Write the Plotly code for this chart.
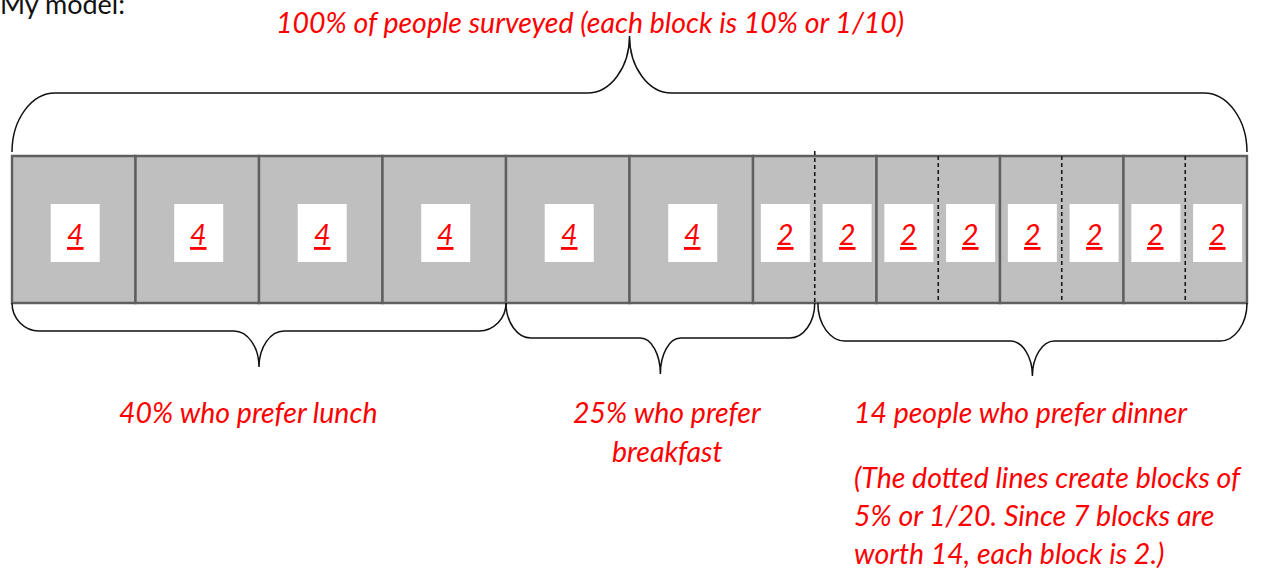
import plotly.graph_objects as go

# ---------------- data ----------------
# segments of the tape diagram (percent width of each segment, and the value written in it)
segment_pct = [10, 10, 10, 10, 10, 10, 5, 5, 5, 5, 5, 5, 5, 5]
segment_values = [4, 4, 4, 4, 4, 4, 2, 2, 2, 2, 2, 2, 2, 2]
# full 10% blocks (solid outlines)
block_pct = [10, 10, 10, 10, 10, 10, 10, 10, 10, 10]
# positions (percent) of the dotted 5% dividers
dotted_pct = [65, 75, 85, 95]
# groups under the tape
group_names = ["lunch", "breakfast", "dinner"]
group_pct = [40, 25, 35]
group_labels = [["40% who prefer lunch"],
                ["25% who prefer", "breakfast"],
                ["14 people who prefer dinner"]]
note_lines = ["(The dotted lines create blocks of",
              "5% or 1/20. Since 7 blocks are",
              "worth 14, each block is 2.)"]
title_text = "100% of people surveyed (each block is 10% or 1/10)"
heading_text = "My model:"

# ---------------- layout constants ----------------
W, H = 1262, 570
X_LO, X_HI = -12 / 12.35, 100 + 15 / 12.35
PX = W / (X_HI - X_LO)          # pixels per percent unit
BAR_TOP, BAR_BOT = 156, 303
BOX_TOP, BOX_BOT = 204, 262
BOX_W_PX = 49
RED = "#ff0000"
FONT = "Lato"
FS = 28.5

shapes = []
annotations = []

# full blocks
x = 0
for w in block_pct:
    shapes.append(dict(type="rect", xref="x", yref="y", x0=x, x1=x + w, y0=BAR_TOP, y1=BAR_BOT,
                       fillcolor="#bfbfbf", line=dict(color="#5f5f5f", width=2.4)))
    x += w

# dotted dividers
for i, d in enumerate(dotted_pct):
    y0 = BAR_TOP - 5 if i == 0 else BAR_TOP
    y1 = BAR_BOT + 2 if i == 0 else BAR_BOT - 3
    shapes.append(dict(type="line", xref="x", yref="y", x0=d, x1=d, y0=y0, y1=y1,
                       line=dict(color="#1a1a1a", width=1.6, dash="4px,3px")))

# value boxes
x = 0
for w, v in zip(segment_pct, segment_values):
    c = x + w / 2 + 0.12
    hw = BOX_W_PX / 2 / PX
    shapes.append(dict(type="rect", xref="x", yref="y", x0=c - hw, x1=c + hw, y0=BOX_TOP, y1=BOX_BOT,
                       fillcolor="white", line=dict(width=0)))
    annotations.append(dict(x=c, y=(BOX_TOP + BOX_BOT) / 2 + 1, xref="x", yref="y",
                            text=f"<u>{v}</u>", showarrow=False,
                            font=dict(family=FONT, size=FS, color=RED, style="italic")))
    x += w


def brace(x0, x1, y_end, y_line, y_tip, r_end_px, r_tip_px):
    re = r_end_px / PX
    rt = r_tip_px / PX
    xm = (x0 + x1) / 2
    k = 0.55
    dy1 = y_line - y_end
    dy2 = y_tip - y_line
    p = (f"M {x0},{y_end} C {x0},{y_end + dy1 * k} {x0 + re * (1 - k)},{y_line} {x0 + re},{y_line} "
         f"L {xm - rt},{y_line} C {xm - rt * (1 - k)},{y_line} {xm},{y_line + dy2 * (1 - k)} {xm},{y_tip} "
         f"C {xm},{y_line + dy2 * (1 - k)} {xm + rt * (1 - k)},{y_line} {xm + rt},{y_line} "
         f"L {x1 - re},{y_line} C {x1 - re * (1 - k)},{y_line} {x1},{y_end + dy1 * k} {x1},{y_end}")
    return dict(type="path", xref="x", yref="y", path=p, line=dict(color="#111111", width=1.5))


# top brace over the whole tape
shapes.append(brace(0, sum(block_pct), 152, 93, 36, 43, 42))

# group braces
brace_geom = {"lunch": (331, 367, 27, 25), "breakfast": (338, 374, 25, 20), "dinner": (341, 376, 27, 22)}
start = 0
for name, g in zip(group_names, group_pct):
    yl, yt, r1, r2 = brace_geom[name]
    off = 0.25 if name == "dinner" else 0
    shapes.append(brace(start + off, start + g, BAR_BOT, yl, yt, r1, r2))
    start += g

# texts
tfont = dict(family=FONT, size=FS, color=RED, style="italic")
annotations.append(dict(x=46.8, y=22, xref="x", yref="y", text=title_text, showarrow=False, font=tfont))
annotations.append(dict(x=X_LO, y=3, xref="x", yref="y", text=heading_text, showarrow=False,
                        xanchor="left", xshift=-2, font=dict(family=FONT, size=27, color="#111111")))
# lunch
annotations.append(dict(x=19.1, y=412, xref="x", yref="y", text=group_labels[0][0], showarrow=False, font=tfont))
# breakfast
for i, t in enumerate(group_labels[1]):
    annotations.append(dict(x=53.1, y=412 + 39 * i, xref="x", yref="y", text=t, showarrow=False, font=tfont))
# dinner
annotations.append(dict(x=68.0, y=412, xref="x", yref="y", text=group_labels[2][0], showarrow=False,
                        xanchor="left", font=tfont))
for i, t in enumerate(note_lines):
    annotations.append(dict(x=68.0, y=477 + 38 * i, xref="x", yref="y", text=t, showarrow=False,
                            xanchor="left", font=tfont))

fig = go.Figure()
fig.update_layout(
    width=W, height=H, margin=dict(l=0, r=0, t=0, b=0),
    paper_bgcolor="white", plot_bgcolor="white",
    xaxis=dict(range=[X_LO, X_HI], visible=False, fixedrange=True),
    yaxis=dict(range=[H, 0], visible=False, fixedrange=True),
    shapes=shapes, annotations=annotations, showlegend=False,
)
fig.write_html("out.html", config={"displayModeBar": False},
               post_script="document.body.style.margin='0px';")
